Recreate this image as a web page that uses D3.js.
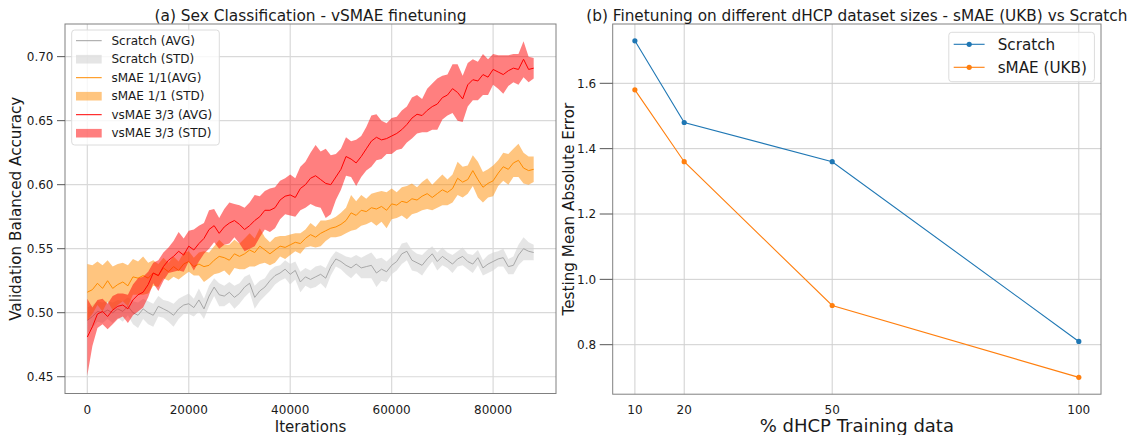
<!DOCTYPE html>
<html><head><meta charset="utf-8">
<script src="https://cdn.jsdelivr.net/npm/d3@7"></script>
<style>
body{margin:0;background:#fff}
svg{display:block}
text{font-family:"DejaVu Sans",sans-serif;fill:#1a1a1a}
</style>
</head><body>
<svg id="c" width="1132" height="435"></svg>
<script>
// ---------- Left panel data (every 1000 iterations) ----------
const iterations = d3.range(0, 88001, 1000);
const scratchAvg = [0.494,0.497,0.501,0.500,0.502,0.500,0.503,0.501,0.505,0.500,0.498,0.503,0.500,0.498,0.505,0.503,0.501,0.498,0.503,0.506,0.507,0.504,0.510,0.503,0.513,0.520,0.514,0.513,0.516,0.512,0.515,0.520,0.523,0.512,0.517,0.520,0.525,0.529,0.531,0.534,0.530,0.533,0.524,0.528,0.526,0.528,0.530,0.527,0.536,0.542,0.540,0.537,0.535,0.538,0.535,0.536,0.537,0.531,0.534,0.532,0.537,0.540,0.546,0.548,0.541,0.539,0.537,0.542,0.546,0.540,0.544,0.541,0.538,0.542,0.544,0.540,0.538,0.543,0.535,0.538,0.540,0.542,0.543,0.536,0.537,0.545,0.550,0.548,0.547];
const scratchStd = [0.010,0.009,0.008,0.008,0.007,0.008,0.007,0.008,0.007,0.009,0.010,0.008,0.009,0.009,0.008,0.007,0.008,0.009,0.008,0.007,0.008,0.007,0.009,0.008,0.008,0.007,0.009,0.008,0.008,0.009,0.008,0.008,0.007,0.009,0.008,0.007,0.008,0.007,0.006,0.007,0.008,0.007,0.008,0.007,0.007,0.008,0.007,0.008,0.007,0.006,0.006,0.007,0.008,0.007,0.008,0.009,0.010,0.011,0.009,0.008,0.007,0.007,0.008,0.007,0.008,0.007,0.008,0.007,0.006,0.007,0.007,0.006,0.007,0.006,0.007,0.006,0.007,0.006,0.006,0.007,0.007,0.006,0.007,0.006,0.007,0.008,0.009,0.007,0.006];
const smaeAvg = [0.516,0.518,0.523,0.519,0.525,0.519,0.522,0.524,0.521,0.528,0.527,0.529,0.527,0.531,0.529,0.535,0.532,0.536,0.533,0.538,0.540,0.536,0.538,0.536,0.537,0.541,0.544,0.543,0.541,0.546,0.544,0.546,0.549,0.547,0.552,0.549,0.546,0.549,0.552,0.551,0.553,0.555,0.554,0.558,0.561,0.559,0.562,0.564,0.566,0.567,0.569,0.572,0.578,0.576,0.580,0.579,0.582,0.581,0.583,0.580,0.585,0.584,0.587,0.586,0.589,0.588,0.591,0.593,0.590,0.593,0.596,0.594,0.597,0.605,0.602,0.604,0.611,0.604,0.598,0.601,0.603,0.609,0.614,0.612,0.617,0.619,0.613,0.611,0.612];
const smaeStd = [0.022,0.019,0.017,0.018,0.016,0.017,0.016,0.015,0.016,0.014,0.013,0.015,0.012,0.010,0.009,0.008,0.007,0.008,0.007,0.009,0.008,0.007,0.009,0.012,0.010,0.011,0.013,0.010,0.012,0.011,0.010,0.012,0.013,0.011,0.014,0.010,0.009,0.010,0.008,0.009,0.008,0.007,0.008,0.007,0.009,0.008,0.010,0.008,0.007,0.008,0.009,0.010,0.014,0.011,0.012,0.010,0.011,0.013,0.012,0.014,0.012,0.010,0.011,0.013,0.012,0.010,0.011,0.012,0.010,0.011,0.012,0.010,0.011,0.013,0.012,0.011,0.012,0.014,0.012,0.011,0.012,0.010,0.011,0.012,0.011,0.013,0.012,0.011,0.010];
const vsmaeAvg = [0.481,0.489,0.499,0.501,0.497,0.502,0.505,0.506,0.503,0.510,0.514,0.516,0.522,0.531,0.529,0.536,0.541,0.544,0.548,0.545,0.552,0.549,0.554,0.558,0.565,0.568,0.562,0.567,0.570,0.572,0.569,0.565,0.568,0.572,0.575,0.580,0.580,0.582,0.588,0.591,0.592,0.590,0.597,0.600,0.605,0.607,0.604,0.601,0.600,0.606,0.612,0.622,0.620,0.617,0.622,0.628,0.634,0.637,0.635,0.636,0.638,0.640,0.643,0.647,0.652,0.655,0.654,0.658,0.661,0.663,0.668,0.670,0.675,0.672,0.667,0.678,0.682,0.681,0.686,0.684,0.690,0.688,0.686,0.689,0.691,0.690,0.698,0.690,0.691];
const vsmaeStd = [0.030,0.015,0.011,0.010,0.010,0.011,0.010,0.009,0.011,0.012,0.013,0.012,0.010,0.008,0.012,0.011,0.010,0.012,0.015,0.013,0.012,0.016,0.014,0.012,0.015,0.013,0.012,0.014,0.016,0.013,0.015,0.017,0.018,0.020,0.016,0.015,0.017,0.016,0.015,0.014,0.016,0.015,0.017,0.018,0.020,0.024,0.022,0.027,0.023,0.018,0.016,0.015,0.014,0.018,0.016,0.017,0.020,0.018,0.015,0.012,0.014,0.013,0.015,0.014,0.016,0.015,0.013,0.017,0.018,0.020,0.017,0.016,0.019,0.022,0.018,0.017,0.016,0.015,0.016,0.014,0.012,0.013,0.015,0.012,0.011,0.012,0.014,0.010,0.008];
const leftXTicks = [0, 20000, 40000, 60000, 80000];
const leftYTicks = [0.45, 0.50, 0.55, 0.60, 0.65, 0.70];

// ---------- Right panel data ----------
const pctData = [10, 20, 50, 100];
const scratchMAE = [1.73, 1.48, 1.36, 0.81];
const smaeMAE = [1.58, 1.36, 0.92, 0.70];
const rightYTicks = [0.8, 1.0, 1.2, 1.4, 1.6];

const svg = d3.select('#c');

// ================= LEFT PANEL =================
const L = {x0: 65, x1: 556, y0: 24, y1: 393.5};
const xL = d3.scaleLinear().domain([-4400, 92400]).range([L.x0, L.x1]);
const yL = d3.scaleLinear().domain([0.4369, 0.7255]).range([L.y1, L.y0]);
const gL = svg.append('g');

gL.selectAll('.vg').data(leftXTicks).join('line')
  .attr('x1', d => xL(d)).attr('x2', d => xL(d)).attr('y1', L.y0).attr('y2', L.y1)
  .attr('stroke', '#d9d9d9').attr('stroke-width', 1.2);
gL.selectAll('.hg').data(leftYTicks).join('line')
  .attr('x1', L.x0).attr('x2', L.x1).attr('y1', d => yL(d)).attr('y2', d => yL(d))
  .attr('stroke', '#d9d9d9').attr('stroke-width', 1.2);

const series = [
  {avg: scratchAvg, std: scratchStd, line: '#a0a0a0', fill: '#d3d3d3', fo: 0.6, lw: 0.9},
  {avg: smaeAvg, std: smaeStd, line: '#ff8c00', fill: '#ff8c00', fo: 0.5, lw: 1},
  {avg: vsmaeAvg, std: vsmaeStd, line: '#ff0000', fill: '#ff0000', fo: 0.5, lw: 1}
];
const idx = d3.range(iterations.length);
series.forEach(s => {
  const area = d3.area().x(i => xL(iterations[i]))
    .y0(i => yL(s.avg[i] - s.std[i])).y1(i => yL(s.avg[i] + s.std[i]));
  gL.append('path').attr('d', area(idx)).attr('fill', s.fill).attr('fill-opacity', s.fo);
  const line = d3.line().x(i => xL(iterations[i])).y(i => yL(s.avg[i]));
  gL.append('path').attr('d', line(idx)).attr('fill', 'none')
    .attr('stroke', s.line).attr('stroke-width', s.lw);
});

gL.append('rect').attr('x', L.x0).attr('y', L.y0).attr('width', L.x1 - L.x0).attr('height', L.y1 - L.y0)
  .attr('fill', 'none').attr('stroke', '#808080').attr('stroke-width', 1);

gL.selectAll('.yt').data(leftYTicks).join('line')
  .attr('x1', L.x0 - 8).attr('x2', L.x0).attr('y1', d => yL(d)).attr('y2', d => yL(d))
  .attr('stroke', '#555').attr('stroke-width', 1);
gL.selectAll('.yl').data(leftYTicks).join('text')
  .attr('x', L.x0 - 11.5).attr('y', d => yL(d)).attr('dy', '0.35em')
  .attr('text-anchor', 'end').attr('font-size', 12).text(d => d3.format('.2f')(d));
gL.selectAll('.xl').data(leftXTicks).join('text')
  .attr('x', d => xL(d)).attr('y', 410).attr('dy', '0.35em')
  .attr('text-anchor', 'middle').attr('font-size', 12).text(d => d);

gL.append('text').attr('x', (L.x0 + L.x1) / 2).attr('y', 431.5).attr('text-anchor', 'middle')
  .attr('font-size', 15).text('Iterations');
gL.append('text').attr('transform', `translate(21,${(L.y0 + L.y1) / 2}) rotate(-90)`)
  .attr('text-anchor', 'middle').attr('font-size', 15.2).text('Validation Balanced Accuracy');
gL.append('text').attr('x', (L.x0 + L.x1) / 2).attr('y', 21).attr('text-anchor', 'middle')
  .attr('font-size', 15.4).text('(a) Sex Classification - vSMAE finetuning');

const lg = gL.append('g');
lg.append('rect').attr('x', 71.7).attr('y', 30).attr('width', 147.6).attr('height', 115).attr('rx', 3)
  .attr('fill', '#fff').attr('fill-opacity', 0.8).attr('stroke', '#dcdcdc');
const legItems = [
  {label: 'Scratch (AVG)', type: 'line', c: '#a0a0a0', o: 1},
  {label: 'Scratch (STD)', type: 'patch', c: '#d3d3d3', o: 0.6},
  {label: 'sMAE 1/1(AVG)', type: 'line', c: '#ff8c00', o: 1},
  {label: 'sMAE 1/1 (STD)', type: 'patch', c: '#ff8c00', o: 0.5},
  {label: 'vsMAE 3/3 (AVG)', type: 'line', c: '#ff0000', o: 1},
  {label: 'vsMAE 3/3 (STD)', type: 'patch', c: '#ff0000', o: 0.5}
];
legItems.forEach((it, i) => {
  const cy = 40.7 + i * 18.5;
  if (it.type === 'line') {
    lg.append('line').attr('x1', 76).attr('x2', 101.7).attr('y1', cy).attr('y2', cy)
      .attr('stroke', it.c).attr('stroke-width', 1);
  } else {
    lg.append('rect').attr('x', 76).attr('y', cy - 4.3).attr('width', 25.7).attr('height', 8.6)
      .attr('fill', it.c).attr('fill-opacity', it.o);
  }
  lg.append('text').attr('x', 111.5).attr('y', cy).attr('dy', '0.35em').attr('font-size', 12).text(it.label);
});

// ================= RIGHT PANEL =================
const R = {x0: 612.7, x1: 1101, y0: 24, y1: 394.2};
const xR = d3.scaleLinear().domain([5.5, 104.5]).range([R.x0, R.x1]);
const yR = d3.scaleLinear().domain([0.6485, 1.7815]).range([R.y1, R.y0]);
const gR = svg.append('g');

gR.selectAll('.vg').data(pctData).join('line')
  .attr('x1', d => xR(d)).attr('x2', d => xR(d)).attr('y1', R.y0).attr('y2', R.y1)
  .attr('stroke', '#cfcfcf').attr('stroke-width', 1);
gR.selectAll('.hg').data(rightYTicks).join('line')
  .attr('x1', R.x0).attr('x2', R.x1).attr('y1', d => yR(d)).attr('y2', d => yR(d))
  .attr('stroke', '#cfcfcf').attr('stroke-width', 1);

const rSeries = [
  {vals: scratchMAE, c: '#1f77b4'},
  {vals: smaeMAE, c: '#ff7f0e'}
];
rSeries.forEach(s => {
  const line = d3.line().x((d, i) => xR(pctData[i])).y(d => yR(d));
  gR.append('path').attr('d', line(s.vals)).attr('fill', 'none').attr('stroke', s.c).attr('stroke-width', 1.1);
  gR.selectAll(null).data(s.vals).join('circle')
    .attr('cx', (d, i) => xR(pctData[i])).attr('cy', d => yR(d)).attr('r', 2.6).attr('fill', s.c);
});

gR.append('rect').attr('x', R.x0).attr('y', R.y0).attr('width', R.x1 - R.x0).attr('height', R.y1 - R.y0)
  .attr('fill', 'none').attr('stroke', '#808080').attr('stroke-width', 1);

gR.selectAll('.yt').data(rightYTicks).join('line')
  .attr('x1', R.x0 - 13).attr('x2', R.x0).attr('y1', d => yR(d)).attr('y2', d => yR(d))
  .attr('stroke', '#555').attr('stroke-width', 1);
gR.selectAll('.yl').data(rightYTicks).join('text')
  .attr('x', R.x0 - 16.5).attr('y', d => yR(d)).attr('dy', '0.35em')
  .attr('text-anchor', 'end').attr('font-size', 12).text(d => d3.format('.1f')(d));
gR.selectAll('.xl').data(pctData).join('text')
  .attr('x', d => xR(d)).attr('y', 410).attr('dy', '0.35em')
  .attr('text-anchor', 'middle').attr('font-size', 12).text(d => d);

gR.append('text').attr('x', (R.x0 + R.x1) / 2).attr('y', 432).attr('text-anchor', 'middle')
  .attr('font-size', 18).text('% dHCP Training data');
gR.append('text').attr('transform', `translate(574,${(R.y0 + R.y1) / 2}) rotate(-90)`)
  .attr('text-anchor', 'middle').attr('font-size', 15.2).text('Testing Mean Absolute Error');
gR.append('text').attr('x', (R.x0 + R.x1) / 2).attr('y', 21).attr('text-anchor', 'middle')
  .attr('font-size', 15.3).text('(b) Finetuning on different dHCP dataset sizes - sMAE (UKB) vs Scratch');

const rg = gR.append('g');
rg.append('rect').attr('x', 948.8).attr('y', 32.3).attr('width', 145.6).attr('height', 49.4).attr('rx', 3)
  .attr('fill', '#fff').attr('fill-opacity', 0.8).attr('stroke', '#dcdcdc');
[{label: 'Scratch', c: '#1f77b4'}, {label: 'sMAE (UKB)', c: '#ff7f0e'}].forEach((it, i) => {
  const cy = 44.3 + i * 23;
  rg.append('line').attr('x1', 953.7).attr('x2', 984.6).attr('y1', cy).attr('y2', cy)
    .attr('stroke', it.c).attr('stroke-width', 1.1);
  rg.append('circle').attr('cx', 969.2).attr('cy', cy).attr('r', 2.6).attr('fill', it.c);
  rg.append('text').attr('x', 997.7).attr('y', cy).attr('dy', '0.35em').attr('font-size', 15.2).text(it.label);
});
</script>
</body></html>
